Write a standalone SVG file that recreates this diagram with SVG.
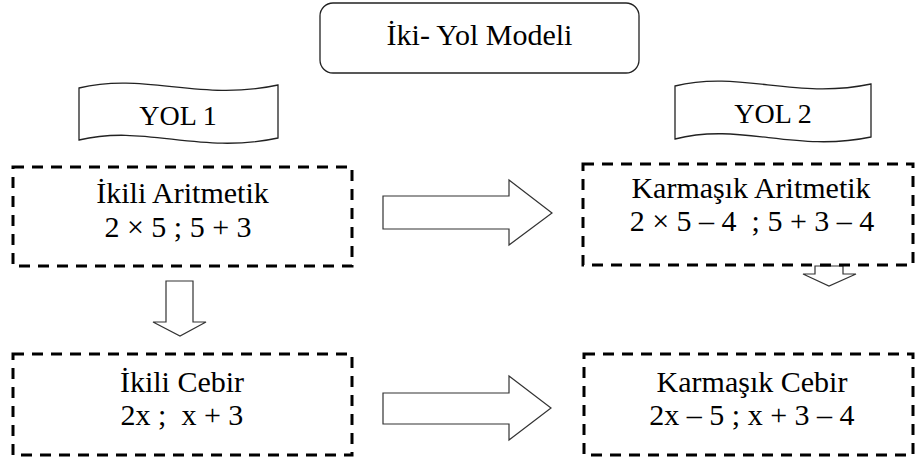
<svg xmlns="http://www.w3.org/2000/svg" width="916" height="459" viewBox="0 0 916 459">
<style>
.box{fill:none;stroke:#000;stroke-width:3;stroke-dasharray:11 8}
.ban{fill:#fff;stroke:#222;stroke-width:1.3}
.arr{fill:#fff;stroke:#333;stroke-width:1.2;stroke-linejoin:miter}
</style>
<rect width="916" height="459" fill="#fff"/>
<g id="title">
<rect x="320" y="3" width="319" height="70" rx="13" ry="13" fill="#fff" stroke="#222" stroke-width="1.3"/>
<text x="479.5" y="45" font-family="Liberation Serif" font-size="30" text-anchor="middle">İki- Yol Modeli</text>
</g>
<g id="yol1">
<path class="ban" d="M79,88 C145,72 200,102 278,85 L278,138 C200,155 145,124 79,140 Z"/>
<text x="178" y="125" font-family="Liberation Serif" font-size="28" text-anchor="middle">YOL 1</text>
</g>
<g id="yol2">
<path class="ban" d="M675,86 C740,70 795,100 871,84 L871,137 C795,153 740,122 675,139 Z"/>
<text x="773" y="123" font-family="Liberation Serif" font-size="28" text-anchor="middle">YOL 2</text>
</g>
<g id="connectors">
<path class="arr" d="M383,196 L509,196 L509,180 L552,213 L509,245 L509,229 L383,229 Z"/>
<path class="arr" d="M383,393 L509,393 L509,376 L551,408 L509,440 L509,424 L383,424 Z"/>
<path class="arr" d="M166,281 L193,281 L193,322 L206,322 L180,336 L153,322 L166,322 Z"/>
<path class="arr" d="M815,266 L843,266 L843,274 L856,274 L829,286 L803,274 L815,274 Z"/>
</g>
<g id="ikili-aritmetik">
<rect class="box" x="13" y="167" width="339" height="99"/>
<text x="182.5" y="203" font-family="Liberation Serif" font-size="30" text-anchor="middle">İkili Aritmetik</text>
<text x="178" y="237" font-family="Liberation Serif" font-size="30" text-anchor="middle">2 × 5 ; 5 + 3</text>
</g>
<g id="karmasik-aritmetik">
<rect class="box" x="583" y="164" width="330" height="101"/>
<text x="751" y="198" font-family="Liberation Serif" font-size="30" text-anchor="middle">Karmaşık Aritmetik</text>
<text x="752" y="231" font-family="Liberation Serif" font-size="30" text-anchor="middle" xml:space="preserve">2 × 5 – 4  ; 5 + 3 – 4</text>
</g>
<g id="ikili-cebir">
<rect class="box" x="13" y="354" width="339" height="101"/>
<text x="182" y="392" font-family="Liberation Serif" font-size="30" text-anchor="middle">İkili Cebir</text>
<text x="182" y="425" font-family="Liberation Serif" font-size="30" text-anchor="middle" xml:space="preserve">2x ;  x + 3</text>
</g>
<g id="karmasik-cebir">
<rect class="box" x="584" y="354" width="329" height="101"/>
<text x="752" y="392" font-family="Liberation Serif" font-size="30" text-anchor="middle">Karmaşık Cebir</text>
<text x="752" y="425" font-family="Liberation Serif" font-size="30" text-anchor="middle">2x – 5 ; x + 3 – 4</text>
</g>
</svg>
